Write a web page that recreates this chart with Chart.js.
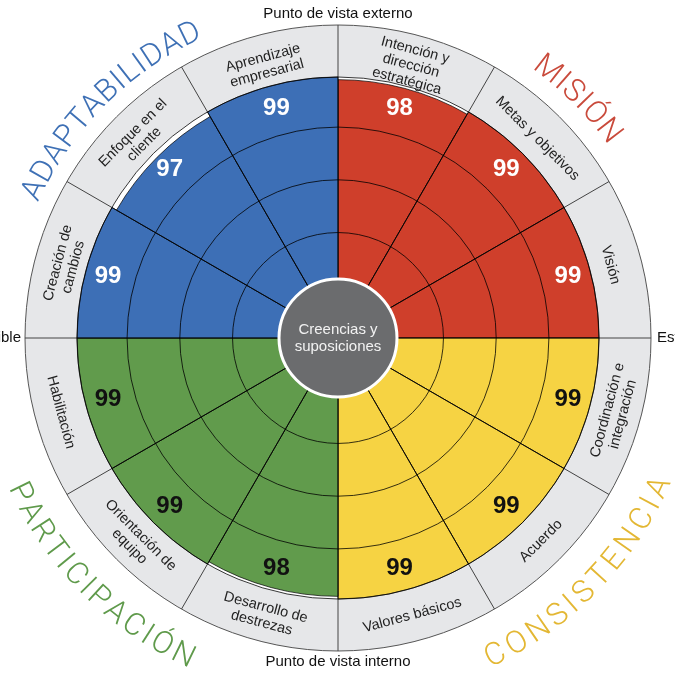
<!DOCTYPE html>
<html><head><meta charset="utf-8">
<script src="https://cdn.jsdelivr.net/npm/chart.js@4.4.1/dist/chart.umd.min.js"></script>
<style>html,body{margin:0;padding:0;background:#fff;}#wrap{width:675px;height:675px;}</style>
</head><body><div id="wrap"><canvas id="c" width="675" height="675"></canvas></div>
<script>
// ---- data ----
const categories = ['Intención y dirección estratégica','Metas y objetivos','Visión','Coordinación e integración','Acuerdo','Valores básicos','Desarrollo de destrezas','Orientación de equipo','Habilitación','Creación de cambios','Enfoque en el cliente','Aprendizaje empresarial'];
const categoryLines = [['Intención y','dirección','estratégica'],['Metas y objetivos'],['Visión'],['Coordinación e','integración'],['Acuerdo'],['Valores básicos'],['Desarrollo de','destrezas'],['Orientación de','equipo'],['Habilitación'],['Creación de','cambios'],['Enfoque en el','cliente'],['Aprendizaje','empresarial']];
const values = [98,99,99,99,99,99,98,99,99,99,97,99];
const traitNames = ['MISIÓN','CONSISTENCIA','PARTICIPACIÓN','ADAPTABILIDAD'];
const traitColors = ['#cf3f2b','#f6d343','#619b4c','#3d6fb6'];
const traitTextColors = ['#c94a3b','#e3b733','#5f9a4b','#3e70b5'];
const valueTextColors = ['#ffffff','#111111','#111111','#ffffff'];
const ringTicks = [0,20,40,60,80,99];
const axisLabels = ['Punto de vista externo','Estable','Punto de vista interno','Flexible'];
const centerLines = ['Creencias y','suposiciones'];

const segColors = values.map((v,i)=>traitColors[Math.floor(i/3)]);
const FONT = "'Liberation Sans', Arial, sans-serif";

function arcText(ctx, text, cx, cy, rc, fromDeg, toDeg, bottom, font, color) {
  ctx.save(); ctx.font = font; ctx.fillStyle = color; ctx.textAlign = 'center'; ctx.textBaseline = 'middle';
  const chars = Array.from(text);
  const w = chars.map(c => ctx.measureText(c).width);
  const pos = [0];
  for (let i = 1; i < chars.length; i++) pos.push(pos[i-1] + w[i-1]/2 + w[i]/2);
  const nat = pos[pos.length-1];
  const L = Math.abs(toDeg - fromDeg) * Math.PI / 180 * rc;
  const extra = (L - nat) / (chars.length - 1);
  chars.forEach((ch, i) => {
    const t = (pos[i] + i*extra) / L;
    const th = (fromDeg + (toDeg - fromDeg) * t) * Math.PI / 180;
    const x = cx + rc * Math.sin(th), y = cy - rc * Math.cos(th);
    ctx.save(); ctx.translate(x, y); ctx.rotate(bottom ? th - Math.PI : th); ctx.fillText(ch, 0, 0); ctx.restore();
  });
  ctx.restore();
}

const ringPlugin = {
  id: 'ring',
  beforeDatasetsDraw(chart) {
    const s = chart.scales.r, ctx = chart.ctx;
    const cx = s.xCenter, cy = s.yCenter, R = s.drawingArea, RO = R + 52;
    ctx.save();
    ctx.beginPath(); ctx.arc(cx, cy, RO, 0, Math.PI*2); ctx.arc(cx, cy, R, 0, Math.PI*2, true);
    ctx.fillStyle = '#e6e7e9'; ctx.fill('evenodd');
    ctx.beginPath(); ctx.arc(cx, cy, RO, 0, Math.PI*2);
    ctx.strokeStyle = '#555'; ctx.lineWidth = 1; ctx.stroke();
    const n = categories.length;
    ctx.strokeStyle = '#444';
    for (let i = 0; i < n; i++) {
      const th = s.getIndexAngle(i) - Math.PI/2;
      ctx.beginPath();
      ctx.moveTo(cx + R*Math.cos(th), cy + R*Math.sin(th));
      ctx.lineTo(cx + RO*Math.cos(th), cy + RO*Math.sin(th));
      ctx.stroke();
    }
    ctx.restore();
  },
  afterDraw(chart) {
    const s = chart.scales.r, ctx = chart.ctx;
    const cx = s.xCenter, cy = s.yCenter, R = s.drawingArea;
    const meta = chart.getDatasetMeta(0);
    ctx.save();
    // center circle
    ctx.beginPath(); ctx.arc(cx, cy, 59, 0, Math.PI*2);
    ctx.fillStyle = '#6b6c6e'; ctx.fill();
    ctx.lineWidth = 3; ctx.strokeStyle = '#ffffff'; ctx.stroke();
    ctx.fillStyle = '#f2f2f2'; ctx.font = '15px ' + FONT; ctx.textAlign = 'center'; ctx.textBaseline = 'middle';
    centerLines.forEach((t, j) => ctx.fillText(t, cx, cy - 8.5 + j*17));
    // values + segment labels
    meta.data.forEach((arc, i) => {
      const mid = (arc.startAngle + arc.endAngle) / 2;
      const tr = Math.floor(i/3);
      ctx.font = 'bold 24px ' + FONT; ctx.fillStyle = valueTextColors[tr];
      const rv = R * 0.912;
      ctx.fillText(String(values[i]), cx + rv*Math.cos(mid), cy + rv*Math.sin(mid));
      const deg = (mid + Math.PI/2) * 180 / Math.PI;
      const bottom = deg > 90 && deg < 270;
      const rl = R + (bottom ? 26 : 21);
      ctx.save();
      ctx.translate(cx + rl*Math.cos(mid), cy + rl*Math.sin(mid));
      ctx.rotate(bottom ? mid + Math.PI/2 - Math.PI : mid + Math.PI/2);
      ctx.font = '14.5px ' + FONT; ctx.fillStyle = '#222';
      const lines = categoryLines[i];
      lines.forEach((t, j) => ctx.fillText(t, 0, (j - (lines.length-1)/2) * 16));
      ctx.restore();
    });
    // axis labels
    ctx.font = '15px ' + FONT; ctx.fillStyle = '#111';
    ctx.fillText(axisLabels[0], cx, 14);
    ctx.fillText(axisLabels[2], cx, 662);
    ctx.textAlign = 'left'; ctx.fillText(axisLabels[1], cx + R + 52 + 6, cy);
    ctx.textAlign = 'right'; ctx.fillText(axisLabels[3], cx - R - 52 - 4, cy);
    ctx.restore();
    // trait titles
    const tf = "300 31px Roboto, 'Liberation Sans', sans-serif";
    arcText(ctx, traitNames[0], cx, cy, 340, 38, 52.6, false, tf, traitTextColors[0]);
    arcText(ctx, traitNames[1], cx, cy, 355, 153.6, 115, true, tf, traitTextColors[1]);
    arcText(ctx, traitNames[2], cx, cy, 354, 244, 206, true, tf, traitTextColors[2]);
    arcText(ctx, traitNames[3], cx, cy, 337, -64, -26, false, tf, traitTextColors[3]);
  }
};

new Chart(document.getElementById('c'), {
  type: 'polarArea',
  data: {
    labels: categories,
    datasets: [{ data: values, backgroundColor: segColors, borderColor: 'rgba(0,0,0,0.7)', borderWidth: 1 }]
  },
  options: {
    responsive: false, animation: false,
    layout: { padding: { left: 77, right: 75, top: 77, bottom: 75 } },
    plugins: { legend: { display: false }, tooltip: { enabled: false } },
    scales: {
      r: {
        min: 0, max: 99, startAngle: 0,
        afterBuildTicks: (scale) => { scale.ticks = ringTicks.map(v => ({ value: v })); },
        ticks: { display: false },
        pointLabels: { display: false },
        grid: { circular: true, color: 'rgba(0,0,0,0.78)', lineWidth: 1, z: 1 },
        angleLines: { display: true, color: 'rgba(0,0,0,0.78)', lineWidth: 1 }
      }
    }
  },
  plugins: [ringPlugin]
});
</script></body></html>
